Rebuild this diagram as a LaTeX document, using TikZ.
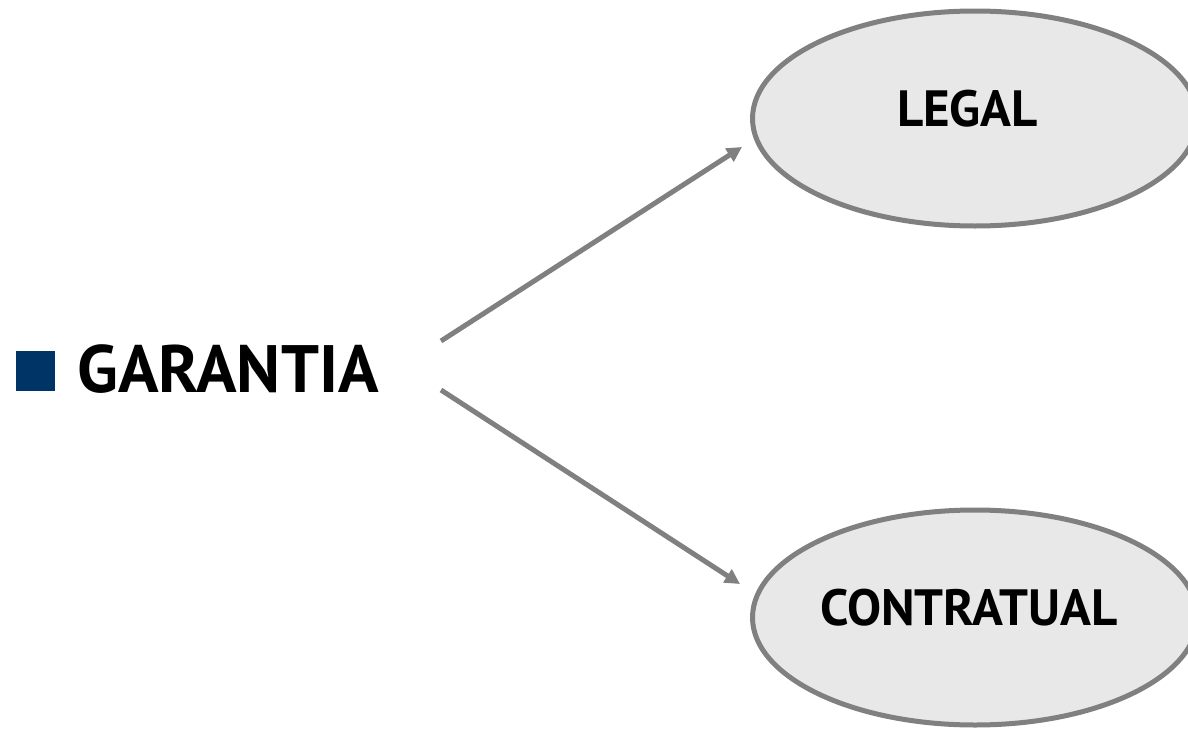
\documentclass[tikz,border=0pt]{standalone}
\usepackage{fontspec}
\setmainfont{PT Sans}
\usetikzlibrary{shapes.geometric,arrows.meta}
\definecolor{edgegray}{RGB}{128,128,128}
\definecolor{ellfill}{RGB}{232,232,232}
\definecolor{bulletblue}{RGB}{0,51,102}
\tikzset{
  px/.style={x=1pt,y=-1pt},
  ellnode/.style={ellipse,draw=edgegray,fill=ellfill,line width=5pt,minimum width=445pt,minimum height=215pt,inner sep=0pt},
  elltext/.style={anchor=base,inner sep=0pt,font=\bfseries\fontsize{51}{60}\selectfont},
  maintext/.style={anchor=base west,inner sep=0pt,font=\bfseries\fontsize{67}{80}\selectfont},
  conn/.style={draw=edgegray,line width=5pt,-{Triangle[length=15pt,width=15pt]}},
}
\begin{document}
\begin{tikzpicture}[px]
\useasboundingbox (0,0) rectangle (1188,728);
\fill[white] (0,0) rectangle (1188,728);
\node[ellnode] (legal) at (975,118.5) {};
\node[elltext] (legaltxt) at (967.5,126) {LEGAL};
\node[ellnode] (contr) at (975,617.5) {};
\node[elltext] (contrtxt) at (969,625) {CONTRATUAL};
\fill[bulletblue] (16,351) rectangle (55,391);
\node[maintext] (gar) at (77,392) {GARANTIA};
\coordinate (s1) at (441,341);
\coordinate (e1) at (742,147);
\coordinate (s2) at (441,390);
\coordinate (e2) at (740,584);
\draw[conn] (s1) -- (e1);
\draw[conn] (s2) -- (e2);
\end{tikzpicture}
\end{document}
